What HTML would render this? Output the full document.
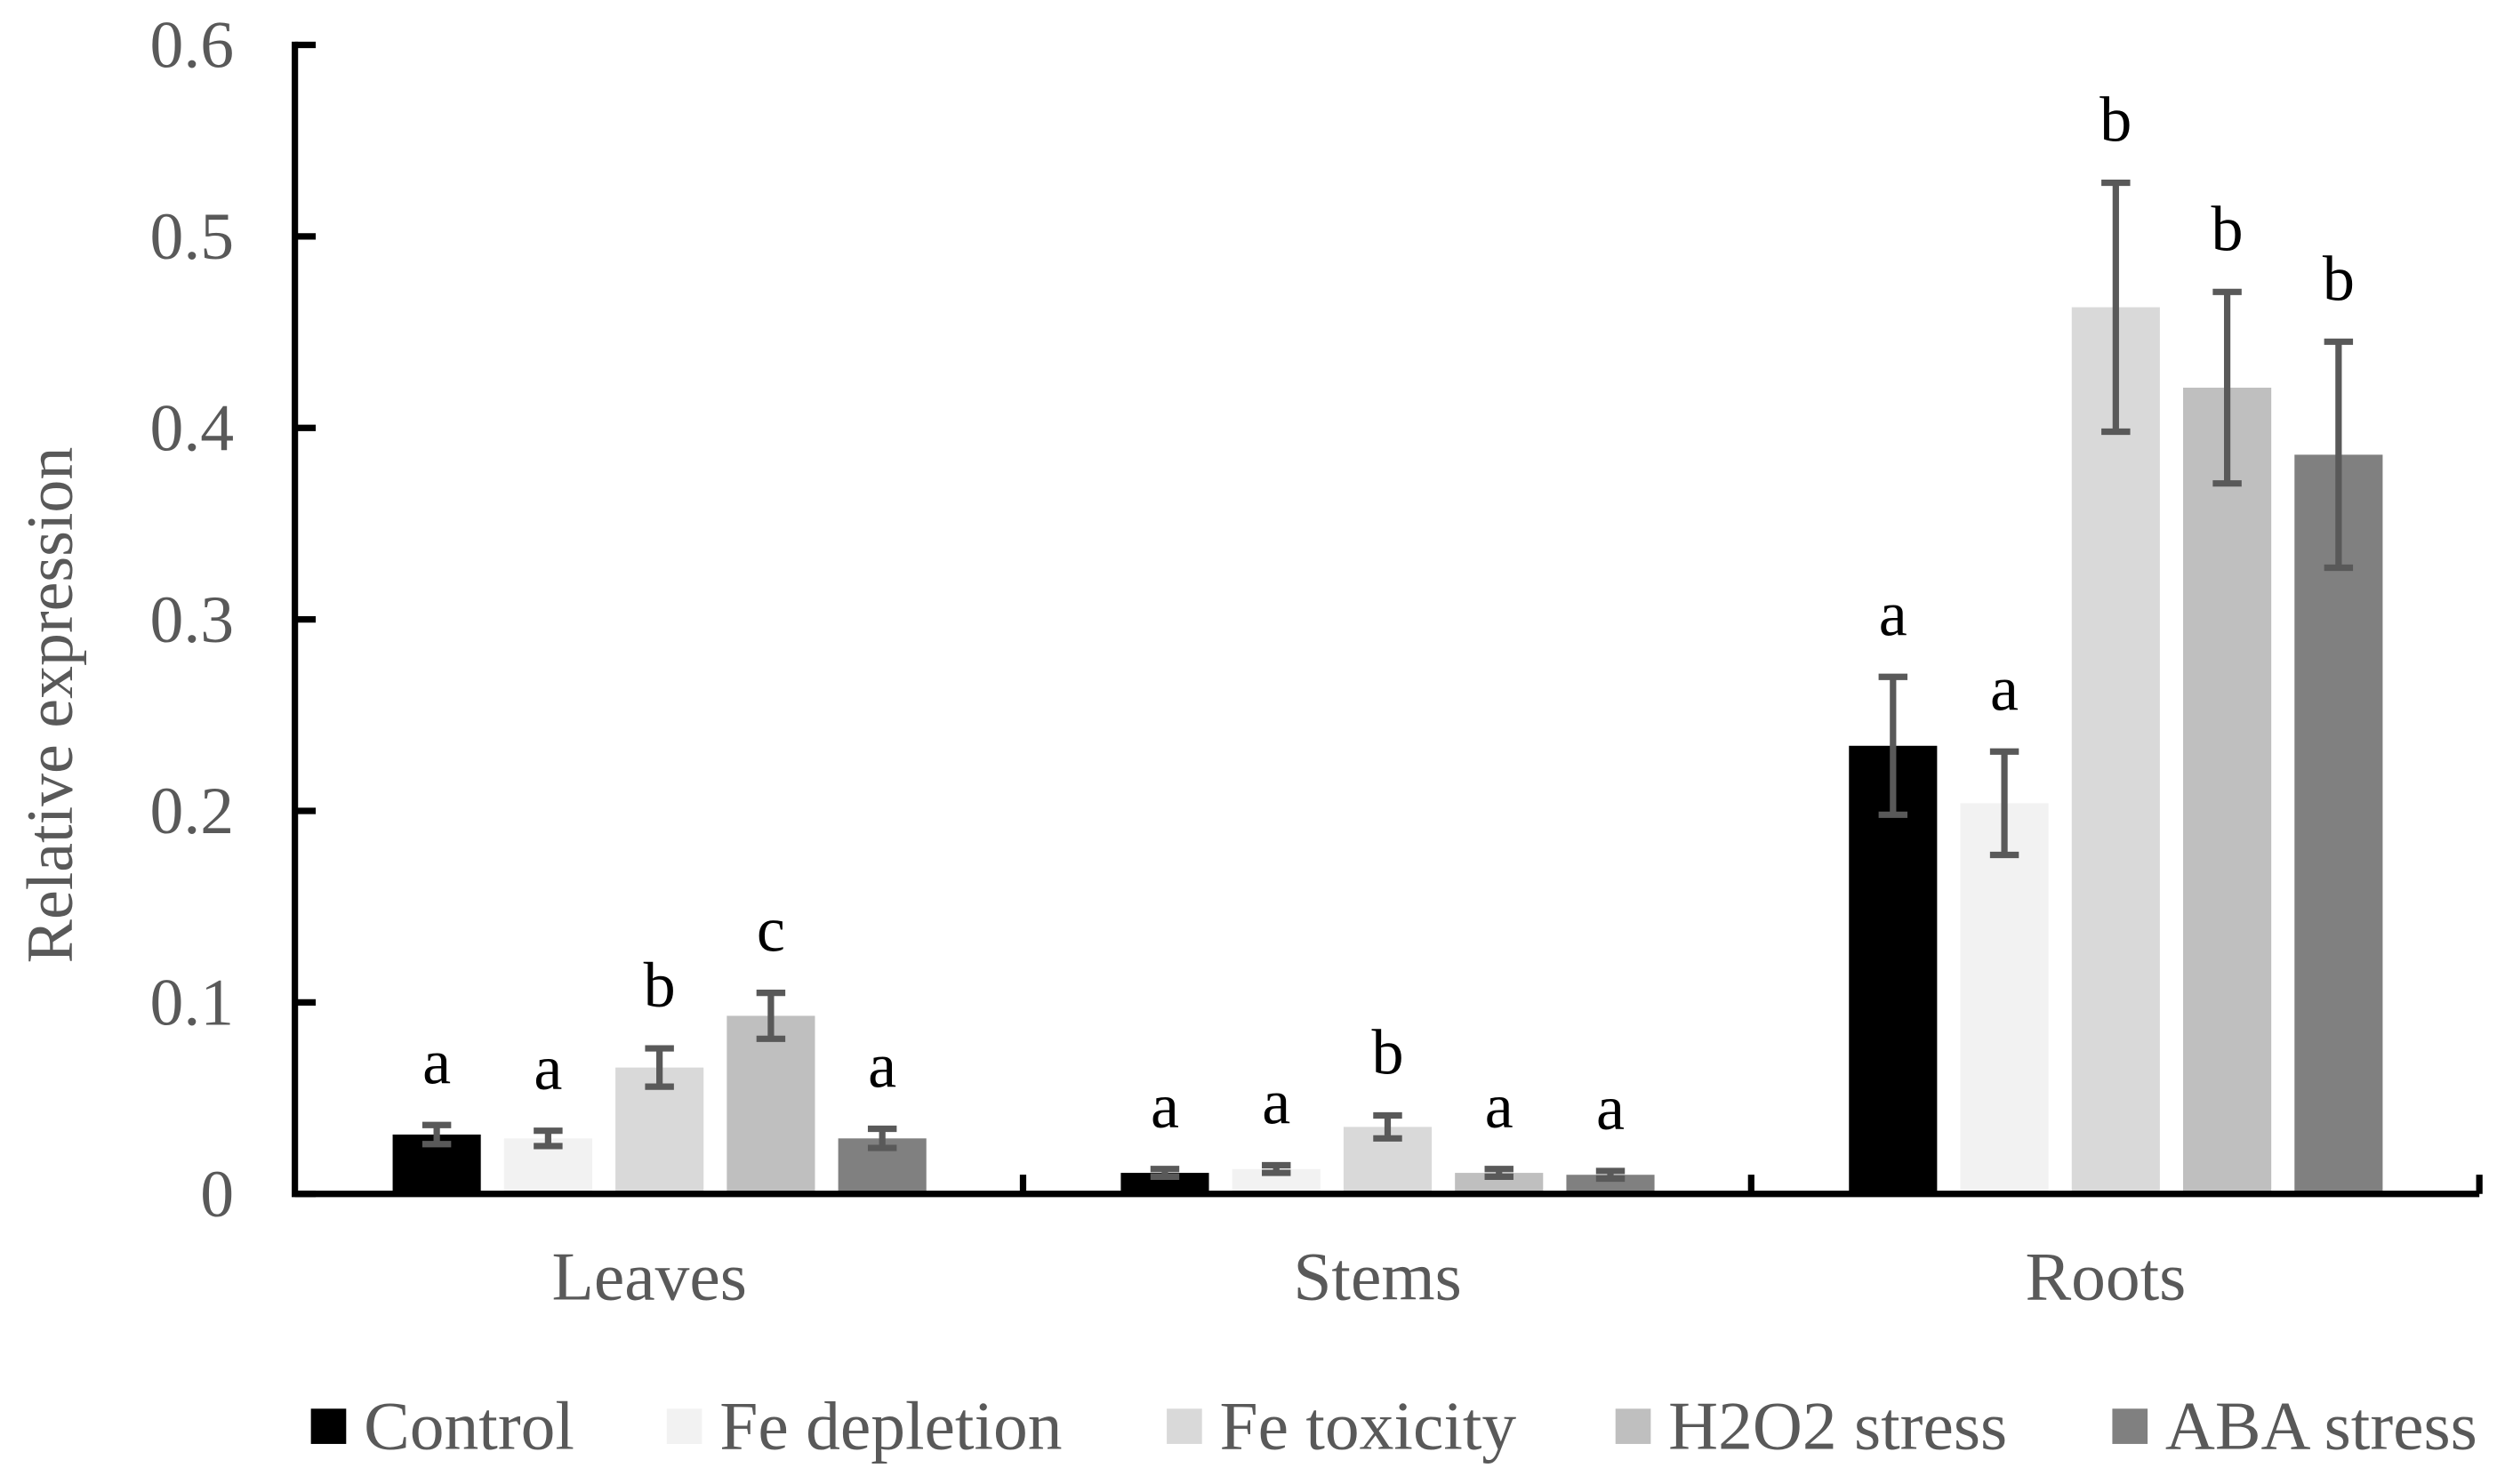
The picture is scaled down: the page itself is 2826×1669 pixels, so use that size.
<!DOCTYPE html>
<html><head><meta charset="utf-8"><style>html,body{margin:0;padding:0;background:#fff}svg{display:block}</style></head>
<body>
<svg id="chart" width="2826" height="1669" viewBox="0 0 1568 926" preserveAspectRatio="none" xmlns="http://www.w3.org/2000/svg" font-family="'Liberation Serif', serif"></svg>
<script>
const categories = ['Leaves','Stems','Roots'];
const seriesNames = ['Control','Fe depletion','Fe toxicity','H2O2 stress','ABA stress'];
const controlVals = [0.031, 0.011, 0.234];
const feDepVals = [0.029, 0.013, 0.204];
const feToxVals = [0.066, 0.035, 0.463];
const h2o2Vals = [0.093, 0.011, 0.421];
const abaVals = [0.029, 0.010, 0.386];
const controlErr = [0.005, 0.002, 0.036];
const feDepErr = [0.004, 0.002, 0.027];
const feToxErr = [0.010, 0.006, 0.065];
const h2o2Err = [0.012, 0.002, 0.050];
const abaErr = [0.005, 0.002, 0.059];
const letters = [['a','a','b','c','a'],['a','a','b','a','a'],['a','a','b','b','b']];
const yTicks = [0, 0.1, 0.2, 0.3, 0.4, 0.5, 0.6];
const yTickLabels = ['0','0.1','0.2','0.3','0.4','0.5','0.6'];

const vals = [controlVals, feDepVals, feToxVals, h2o2Vals, abaVals];
const errs = [controlErr, feDepErr, feToxErr, h2o2Err, abaErr];
const colors = ['#000000','#f2f2f2','#d9d9d9','#bfbfbf','#808080'];
const svg = document.getElementById('chart');
const NS = 'http://www.w3.org/2000/svg';
const x0 = 184, x1 = 1547, yZero = 745, yTop = 28, yMax = 0.6;
const groupW = (x1 - x0) / categories.length;
const y = v => yZero - (v / yMax) * (yZero - yTop);
const barX = (g, s) => x0 + g * groupW + 61 + s * 69.5;
const barW = 55;
function mk(tag, attrs, parent) { const e = document.createElementNS(NS, tag); for (const k in attrs) e.setAttribute(k, attrs[k]); (parent || svg).appendChild(e); return e; }

categories.forEach((c, g) => {
  vals.forEach((arr, s) => {
    const r = mk('rect', {x: barX(g, s), y: y(arr[g]), width: barW, height: yZero - y(arr[g]), fill: colors[s]});
    
    
    const cx = barX(g, s) + barW / 2;
    const hi = y(arr[g] + errs[s][g]), lo = y(arr[g] - errs[s][g]);
    const eb = mk('path', {d: `M${cx},${hi}V${lo}M${cx-9},${hi}H${cx+9}M${cx-9},${lo}H${cx+9}`, stroke: '#595959', 'stroke-width': 4, fill: 'none'});
    
    
    const t = mk('text', {x: cx, y: hi - 26, 'text-anchor': 'middle', 'font-size': 40, fill: '#000'});
    t.textContent = letters[g][s];
    
    
  });
  const cl = mk('text', {x: x0 + g * groupW + groupW / 2 - 6, y: 811, 'text-anchor': 'middle', 'font-size': 43, fill: '#595959'});
  cl.textContent = c;
  
  
});

const ax = mk('path', {d: `M${x0},${yTop-2}V${yZero}H${x1}`, stroke: '#000', 'stroke-width': 4, fill: 'none'});


yTicks.forEach((v, i) => {
  const tk = mk('line', {x1: x0, x2: x0 + 13, y1: y(v), y2: y(v), stroke: '#000', 'stroke-width': 4});
  
  
  const tl = mk('text', {x: 146, y: y(v) + 14, 'text-anchor': 'end', 'font-size': 42, fill: '#595959'});
  tl.textContent = yTickLabels[i];
  
  
});
for (let g = 1; g <= categories.length; g++) {
  const xx = x0 + g * groupW;
  const tk = mk('line', {x1: xx, x2: xx, y1: yZero, y2: yZero - 12, stroke: '#000', 'stroke-width': 4});
  
  
}
const yt = mk('text', {x: 0, y: 0, transform: 'translate(45,440) rotate(-90)', 'text-anchor': 'middle', 'font-size': 41, fill: '#595959'});
yt.textContent = 'Relative expression';



const legX = [194, 416, 728, 1008, 1318];
seriesNames.forEach((n, s) => {
  const g = mk('g', {});
  
  
  mk('rect', {x: legX[s], y: 879, width: 22, height: 22, fill: colors[s]}, g);
  const t = mk('text', {x: legX[s] + 33, y: 904, 'font-size': 43, fill: '#595959'}, g);
  t.textContent = n;
});
</script>
</body></html>
